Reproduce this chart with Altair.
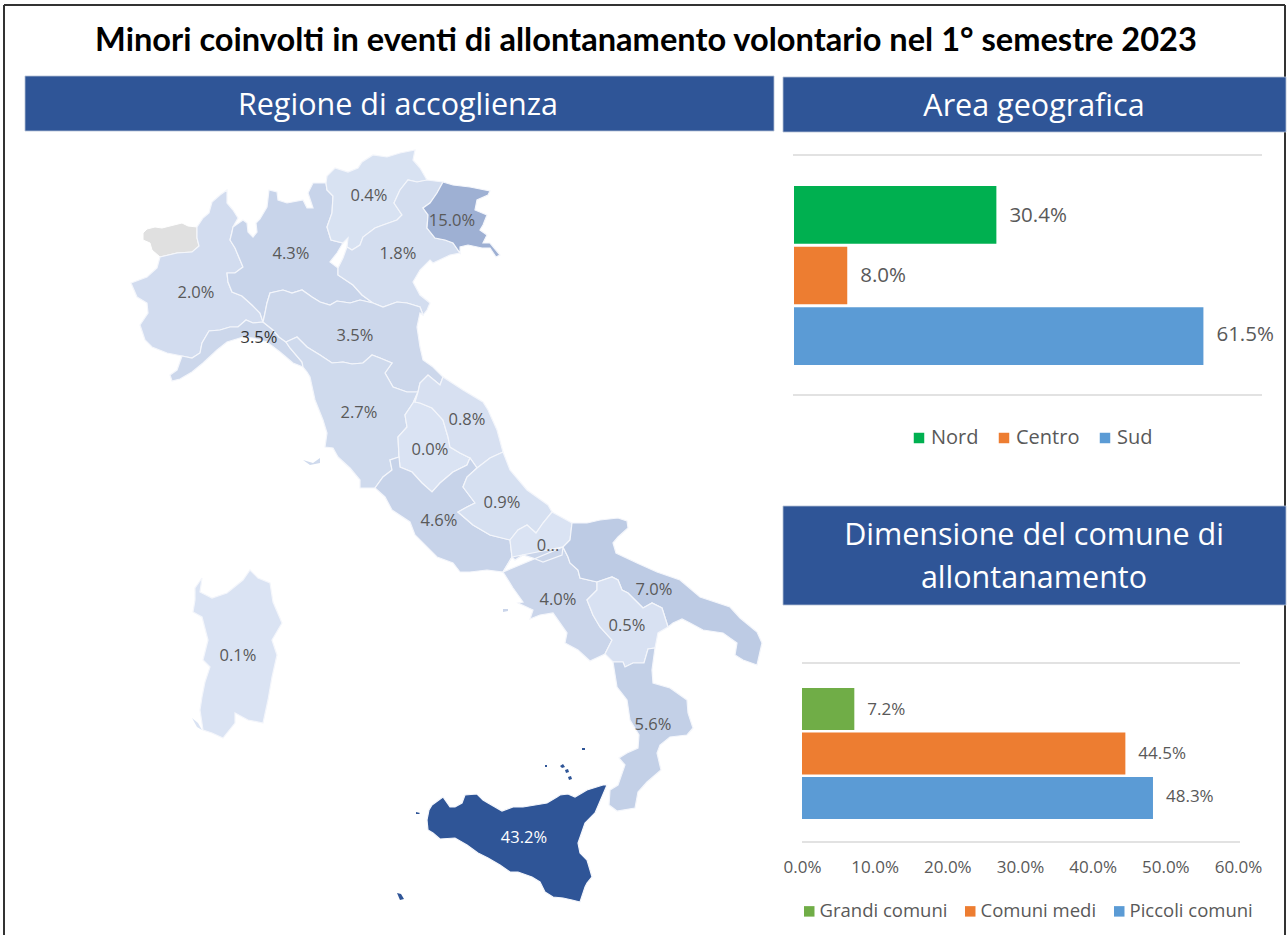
import altair as alt

# ---------- values ----------
chart_title = ["Minori coinvolti in eventi di allontanamento volontario nel 1° semestre 2023"]

region_names = ["Piemonte", "Valle d'Aosta", "Lombardia", "Trentino-Alto Adige", "Veneto",
                "Friuli-Venezia Giulia", "Liguria", "Emilia-Romagna", "Toscana", "Umbria",
                "Marche", "Lazio", "Abruzzo", "Molise", "Campania", "Puglia", "Basilicata",
                "Calabria", "Sicilia", "Sardegna"]
region_values = [2.0, None, 4.3, 0.4, 1.8, 15.0, 3.5, 3.5, 2.7, 0.0,
                 0.8, 4.6, 0.9, 0.1, 4.0, 7.0, 0.5, 5.6, 43.2, 0.1]
# Map-grid position (column, row) of each region's label
label_cols = [96, None, 191, 269, 298, 352, 159, 255, 259, 330,
              367, 339, 402, 448, 458, 554, 527, 553, 424, 138]
label_rows = [193, None, 154, 96, 154, 121, 238, 236, 313, 350,
              320, 421, 403, 446, 500, 490, 526, 625, 738, 556]

area_names = ["Nord", "Centro", "Sud"]
area_values = [30.4, 8.0, 61.5]
area_colors = ["#00b050", "#ed7d31", "#5b9bd5"]

size_names = ["Grandi comuni", "Comuni medi", "Piccoli comuni"]
size_values = [7.2, 44.5, 48.3]
size_colors = ["#70ad47", "#ed7d31", "#5b9bd5"]
size_ticks = [0, 10, 20, 30, 40, 50, 60]

# ---------- map outlines: shared borders on a raster-style map grid (column, row) ----------
vda_pie = [(97,127),(97,138),(99,146),(92,152),(77,153),(60,157)]
vda_free = [(52,150),(50,143),(43,140),(43,133),(47,129),(55,127),(62,128),(70,126),(82,123),(88,126)]
pie_north = [(103,118),(109,113),(112,102),(120,95),(127,90),(127,103),(133,110),(138,118)]
pie_lom = [(133,127),(132,132),(130,140),(135,148),(143,167),(135,173),(127,173),(128,182),(132,192),(142,196),(152,205),(160,213),(163,222)]
pie_lig = [(163,222),(153,223),(146,220),(138,227),(130,227),(120,230),(109,231),(102,243),(100,253),(92,258),(82,256)]
pie_free = [(67,253),(52,247),(45,240),(40,225),(48,213),(47,203),(37,197),(31,183),(47,177),(57,168),(60,157)]
lom_north = [(133,127),(143,120),(147,123),(148,132),(153,137),(157,132),(156,123),(160,119),(167,107),(169,90),(177,92),(178,100),(187,103),(203,100),(207,108),(213,108),(208,93),(213,83),(220,83)]
lom_tren = [(226,83),(227,90),(233,96),(232,113),(227,127),(231,140),(243,143)]
lom_garda = [(237,153),(230,162),(238,168)]
lom_ven = [(238,175),(253,185),(262,195),(273,203)]
lom_emi = [(273,203),(260,200),(250,203),(237,201),(230,205),(220,202),(212,197),(202,190),(192,193),(183,190),(170,193),(167,203),(165,213),(163,222)]
lig_emi = [(163,222),(173,230),(179,237),(186,242)]
lig_tos = [(186,242),(190,248),(202,262),(203,267)]
lig_coast = [(193,263),(180,252),(167,242),(153,238),(143,237),(127,242),(117,250),(103,263),(92,272),(80,279),(72,281),(70,275),(77,270)]
ven_emi = [(273,203),(283,207),(297,202),(307,203),(320,207),(323,215)]
emi_coast = [(320,213),(317,227),(320,247),(323,260),(333,267),(343,277)]
emi_tos = [(186,242),(197,237),(207,247),(220,255),(232,263),(243,262),(252,264),(263,263),(272,255),(280,258),(292,263),(285,273),(293,287),(307,292),(318,292)]
emi_mar = [(318,292),(320,283),(328,275),(340,285),(343,277)]
tos_coast = [(207,272),(210,277),(215,300),(223,320),(227,333),(225,347),(233,348),(238,357),(250,368),(260,380),(260,388)]
tos_laz = [(275,388),(283,377),(292,370),(290,360),(299,357)]
tos_umb = [(299,357),(298,337),(307,327),(305,315),(313,303),(318,292)]
mar_umb = [(318,292),(315,302),(320,303),(332,308),(343,320),(348,337),(350,347),(360,353),(370,358)]
umb_laz = [(370,358),(367,365),(353,372),(340,383),(332,392),(322,383),(312,372),(300,367),(299,357)]
mar_coast = [(363,290),(383,302),(388,310),(397,330),(403,352)]
mar_abr = [(403,352),(390,358),(377,368)]
laz_abr = [(377,368),(367,377),(363,387),(375,403),(367,407),(358,412),(373,425),(390,435),(410,440)]
laz_mol = [(410,440),(412,457)]
laz_cam = [(412,457),(403,472)]
laz_coast = [(387,470),(370,472),(360,472),(353,463),(337,457),(315,435),(310,422),(292,410),(285,397)]
abr_coast = [(410,370),(427,390),(448,405),(452,412)]
abr_mol = [(410,440),(418,430),(427,425),(436,433),(443,423),(452,412)]
mol_pug = [(472,423),(470,440),(463,447)]
mol_cam = [(463,447),(462,455),(443,462),(433,458),(423,455),(415,460),(412,457)]
cam_coast = [(413,488),(423,502),(418,503),(433,510),(430,519),(440,515),(453,513),(467,533),(465,543),(478,550),(490,561),(505,554)]
cam_bas = [(505,554),(512,540),(500,527),(493,515),(487,500),(497,490),(497,482)]
cam_pug = [(497,482),(480,478),(478,470),(470,463),(468,457),(463,447)]
pug_coast = [(487,423),(500,420),(518,418),(527,421),(528,428),(518,437),(513,443),(516,453),(537,463),(557,472),(580,480),(600,497),(630,507),(640,518),(657,532),(662,543),(657,565),(643,560),(635,555),(637,543),(623,533),(603,530),(590,523),(582,519),(573,523)]
pug_bas = [(568,527),(562,508),(552,503),(543,508),(528,493),(522,490),(518,480),(512,477),(497,482)]
bas_coast = [(558,533),(555,548),(548,549)]
bas_cal = [(548,549),(544,563),(533,563),(525,567),(523,562),(513,562)]
cal_free = [(555,548),(552,570),(553,583),(570,588),(587,600),(588,613),(593,628),(587,635),(570,637),(560,645),(557,653),(561,670),(547,682),(538,692),(535,708),(517,711),(509,705),(510,690),(518,685),(525,665),(519,658),(527,653),(538,648),(539,635),(530,620),(527,600),(517,587)]
ven_tren = [(327,80),(317,82),(308,80),(300,90),(294,103),(302,115),(297,120),(283,125),(275,128),(263,137),(260,145),(252,150),(247,147)]
tren_free = [(227,76),(235,68),(248,72),(258,68),(262,62),(273,55),(287,57),(300,53),(315,50),(313,60),(320,68)]
ven_fvg = [(343,82),(337,93),(330,103),(323,108),(328,115),(327,128),(335,138),(345,140),(353,143),(360,153)]
ven_coast = [(350,155),(333,163),(330,160),(320,170),(313,182),(320,195),(330,203),(327,210)]
ven_garda = [(238,168),(243,158),(247,147)]
fvg_free = [(353,85),(370,87),(390,91),(388,95),(377,100),(375,110),(387,115),(383,125),(380,130),(387,135),(383,143),(390,143),(400,155),(396,157),(390,148),(382,148),(368,145),(360,147)]
sicilia = [(503,685),(507,685),(495,713),(485,723),(478,743),(480,753),(487,760),(490,770),(492,777),(487,783),(485,787),(480,802),(472,800),(463,798),(453,797),(445,792),(440,782),(432,777),(418,772),(410,772),(400,765),(388,758),(378,753),(367,745),(355,738),(340,739),(333,733),(328,730),(327,720),(329,710),(332,705),(343,697),(350,707),(355,707),(362,703),(365,695),(377,694),(383,700),(388,703),(402,711),(413,707),(423,707),(447,703),(457,697),(460,695),(468,694),(475,697),(487,690)]
sardegna = [(150,470),(158,478),(170,483),(173,502),(182,523),(172,540),(177,555),(172,577),(168,600),(163,623),(148,620),(135,613),(135,623),(123,638),(112,633),(103,630),(100,610),(102,597),(105,582),(110,567),(103,560),(108,540),(102,517),(93,512),(95,500),(95,488),(102,478),(100,492),(112,498),(127,493),(143,480)]

# Small islands, drawn without the white border so they stay visible
islets = [
    ("Toscana", [(203,360),(213,363),(220,358),(220,363),(210,365)]),
    ("Campania", [(403,509),(408,509),(408,511),(403,512)]),
    ("Sardegna", [(92,618),(98,623),(102,630),(97,627)]),
    ("Sicilia", [(297,793),(301,794),(304,799),(300,800)]),
    ("Sicilia", [(460,666),(463,664),(465,667),(462,668)]),
    ("Sicilia", [(465,670),(468,669),(469,672),(466,673)]),
    ("Sicilia", [(468,677),(471,676),(472,679),(469,680)]),
    ("Sicilia", [(482,648),(485,648),(485,650),(482,650)]),
    ("Sicilia", [(445,665),(447,665),(447,667),(445,667)]),
    ("Sicilia", [(316,712),(320,713),(319,714),(316,714)]),
]


def rev(arc):
    return arc[::-1]


region_rings = {
    "Valle d'Aosta": vda_pie + vda_free,
    "Piemonte": vda_pie[:1] + pie_north + pie_lom + pie_lig[1:] + pie_free + rev(vda_pie)[1:],
    "Lombardia": lom_north + lom_tren + lom_garda + lom_ven + lom_emi + rev(pie_lom),
    "Trentino-Alto Adige": lom_tren[:1] + tren_free + ven_tren + [(248,138)] + rev(lom_tren),
    "Veneto": rev(ven_tren) + ven_fvg + ven_coast + rev(ven_emi) + rev(lom_ven) + ven_garda,
    "Friuli-Venezia Giulia": ven_fvg[:1] + fvg_free + rev(ven_fvg),
    "Liguria": rev(pie_lig) + lig_emi + lig_tos + lig_coast,
    "Emilia-Romagna": rev(lom_emi) + ven_emi + emi_coast + rev(emi_mar) + rev(emi_tos) + rev(lig_emi),
    "Toscana": lig_tos[-1:] + tos_coast + tos_laz + tos_umb + rev(emi_tos) + lig_tos,
    "Umbria": mar_umb + umb_laz + tos_umb,
    "Marche": emi_mar + mar_coast + mar_abr + rev(mar_umb),
    "Lazio": tos_laz + rev(umb_laz) + laz_abr + laz_mol + laz_cam + laz_coast,
    "Abruzzo": rev(mar_abr) + abr_coast + rev(abr_mol) + rev(laz_abr),
    "Molise": abr_mol + mol_pug + mol_cam + rev(laz_mol),
    "Campania": laz_cam[-1:] + cam_coast + cam_bas + cam_pug + rev(mol_cam) + rev(laz_cam),
    "Puglia": mol_pug[:1] + pug_coast + pug_bas + cam_pug + rev(mol_pug),
    "Basilicata": rev(pug_bas) + bas_coast + bas_cal + cam_bas,
    "Calabria": rev(bas_cal) + cal_free,
    "Sicilia": sicilia,
    "Sardegna": sardegna,
}

value_of = dict(zip(region_names, region_values))


def feature(name, ring):
    closed = [list(p) for p in ring] + [list(ring[0])]
    return {"type": "Feature",
            "geometry": {"type": "Polygon", "coordinates": [closed]},
            "properties": {"name": name, "value": value_of[name]}}


def collection(features):
    return alt.InlineData(values={"type": "FeatureCollection", "features": features},
                          format=alt.DataFormat(property="features", type="json"))


regions_data = collection([feature(n, region_rings[n]) for n in region_names])
islets_data = collection([feature(n, ring) for n, ring in islets])

# Molise's label is cut short in the published map
label_rows_table = []
for n, v, c, r in zip(region_names, region_values, label_cols, label_rows):
    if v is None:
        continue
    text = "0..." if n == "Molise" else f"{v:.1f}%"
    label_rows_table.append({"region": n, "value": v, "col": c, "row": r, "text": text})

# ---------- shared styling ----------
TEXT_FONT = "Open Sans"
BANNER = "#2f5597"
INK = "#595959"
GRID = "#d9d9d9"
ONE = alt.Data(values=[{}])
map_projection = dict(type="identity", scale=1, translate=[100, 100])
map_fill = alt.Color("properties.value:Q", legend=None,
                     scale=alt.Scale(domain=[0, 43.2], range=["#dae3f3", "#2f5597"]))


def banner(x0, x1, y0, y1):
    return alt.Chart(ONE).mark_rect(color=BANNER, stroke="#b4c0d6", strokeWidth=0.8).encode(
        x=alt.value(x0), x2=alt.value(x1), y=alt.value(y0), y2=alt.value(y1))


def banner_text(text, x, y):
    return alt.Chart(alt.Data(values=[{"t": text}])).mark_text(
        font=TEXT_FONT, fontSize=30.5, color="white", align="center", baseline="middle"
    ).encode(text="t:N", x=alt.value(x), y=alt.value(y))


def rule(x0, x1, y0, y1, color=GRID, width=1.6):
    return alt.Chart(ONE).mark_rule(color=color, strokeWidth=width).encode(
        x=alt.value(x0), x2=alt.value(x1), y=alt.value(y0), y2=alt.value(y1))


def bar_panel(names, values, colors, x_scale, y_scale, label_size, legend, axis=None):
    rows = [{"name": n, "share": v} for n, v in zip(names, values)]
    data = alt.Data(values=rows)
    x = alt.X("share:Q", scale=x_scale, axis=axis, title=None)
    y = alt.Y("name:N", scale=y_scale, axis=None, title=None)
    bars = alt.Chart(data).mark_bar(cornerRadius=0).encode(
        x=x, y=y,
        color=alt.Color("name:N", legend=legend, title=None,
                        scale=alt.Scale(domain=names, range=colors)))
    labels = alt.Chart(data).transform_calculate(
        text="format(datum.share, '.1f') + '%'"
    ).mark_text(font=TEXT_FONT, fontSize=label_size, color=INK, align="left",
                baseline="middle", dx=13).encode(x=alt.X("share:Q", scale=x_scale, axis=None),
                                                 y=y, text="text:N")
    return [bars, labels]


# ---------- frame, title, banners ----------
frame = [rule(4, 1285, 5, 5, "#333333", 2), rule(4, 4, 5, 935, "#333333", 2),
         rule(1285, 1285, 5, 935, "#333333", 2)]
title = alt.Chart(alt.Data(values=[{"t": chart_title[0]}])).mark_text(
    font="Lato", fontWeight="bold", fontSize=32.6, color="black", align="center", baseline="middle"
).encode(text="t:N", x=alt.value(646), y=alt.value(41))

banners = [
    banner(25, 774, 76, 131), banner_text("Regione di accoglienza", 398, 105.5),
    banner(783, 1286, 77, 132), banner_text("Area geografica", 1034, 106.5),
    banner(783, 1286, 506, 605),
    banner_text("Dimensione del comune di", 1034, 536),
    banner_text("allontanamento", 1034, 579),
]

# ---------- choropleth ----------
no_data = alt.Chart(regions_data).transform_filter("datum.properties.value == null").mark_geoshape(
    fill="#e0e0e0", stroke="white", strokeWidth=1).project(**map_projection)
regions = alt.Chart(regions_data).transform_filter("datum.properties.value != null").mark_geoshape(
    stroke="#f4f6fb", strokeWidth=1.2).encode(color=map_fill).project(**map_projection)
small_islands = alt.Chart(islets_data).mark_geoshape(strokeWidth=0).encode(
    color=map_fill).project(**map_projection)
region_labels = alt.Chart(alt.Data(values=label_rows_table)).mark_text(
    font=TEXT_FONT, fontSize=16.5, align="center", baseline="middle"
).encode(
    longitude="col:Q", latitude="row:Q", text="text:N",
    color=alt.when("datum.value > 30").then(alt.value("white"))
    .when("datum.region == 'Liguria'").then(alt.value("#333333"))
    .otherwise(alt.value(INK)),
).project(**map_projection)

# ---------- area panel ----------
area_x = alt.Scale(domain=[0, 70], range=[794, 1260], nice=False)
area_y = alt.Scale(domain=area_names, range=[186, 365], paddingInner=0.05, paddingOuter=0)
area_legend = alt.Legend(orient="none", legendX=909, legendY=428, direction="horizontal",
                         symbolType="square", symbolSize=110, symbolStrokeWidth=0,
                         labelFont=TEXT_FONT, labelFontSize=20, labelColor=INK,
                         columnPadding=15, labelOffset=2)
area_layers = bar_panel(area_names, area_values, area_colors, area_x, area_y, 20.5, area_legend)

# ---------- town-size panel ----------
size_x = alt.Scale(domain=[0, 60], range=[802, 1238], nice=False)
size_y = alt.Scale(domain=size_names, range=[688, 819], paddingInner=0.06, paddingOuter=0)
size_axis = alt.Axis(values=size_ticks, labelExpr="format(datum.value, '.1f') + '%'",
                     orient="bottom", offset=-93, domain=False, ticks=False, grid=False,
                     labelFont=TEXT_FONT, labelFontSize=17, labelColor=INK, labelPadding=17,
                     labelFlush=False, labelOverlap=False, labelBound=False, title=None)
size_legend = alt.Legend(orient="none", legendX=800, legendY=902, direction="horizontal",
                         symbolType="square", symbolSize=110, symbolStrokeWidth=0,
                         labelFont=TEXT_FONT, labelFontSize=18.5, labelColor=INK,
                         columnPadding=13, labelOffset=1)
size_layers = bar_panel(size_names, size_values, size_colors, size_x, size_y, 17, size_legend,
                        axis=size_axis)

rules = [rule(793, 1262, 155, 155), rule(793, 1262, 395, 395),
         rule(802, 1240, 663, 663), rule(802, 1240, 842, 842)]

chart = alt.layer(
    *frame, title, *banners, no_data, regions, small_islands, region_labels,
    *rules, *area_layers, *size_layers,
).resolve_scale(x="independent", y="independent", color="independent").properties(
    width=1288, height=935, padding=0, autosize="none", background="white"
).configure_view(stroke=None)

chart.save("out.html", embed_options={"renderer": "svg", "actions": False})
